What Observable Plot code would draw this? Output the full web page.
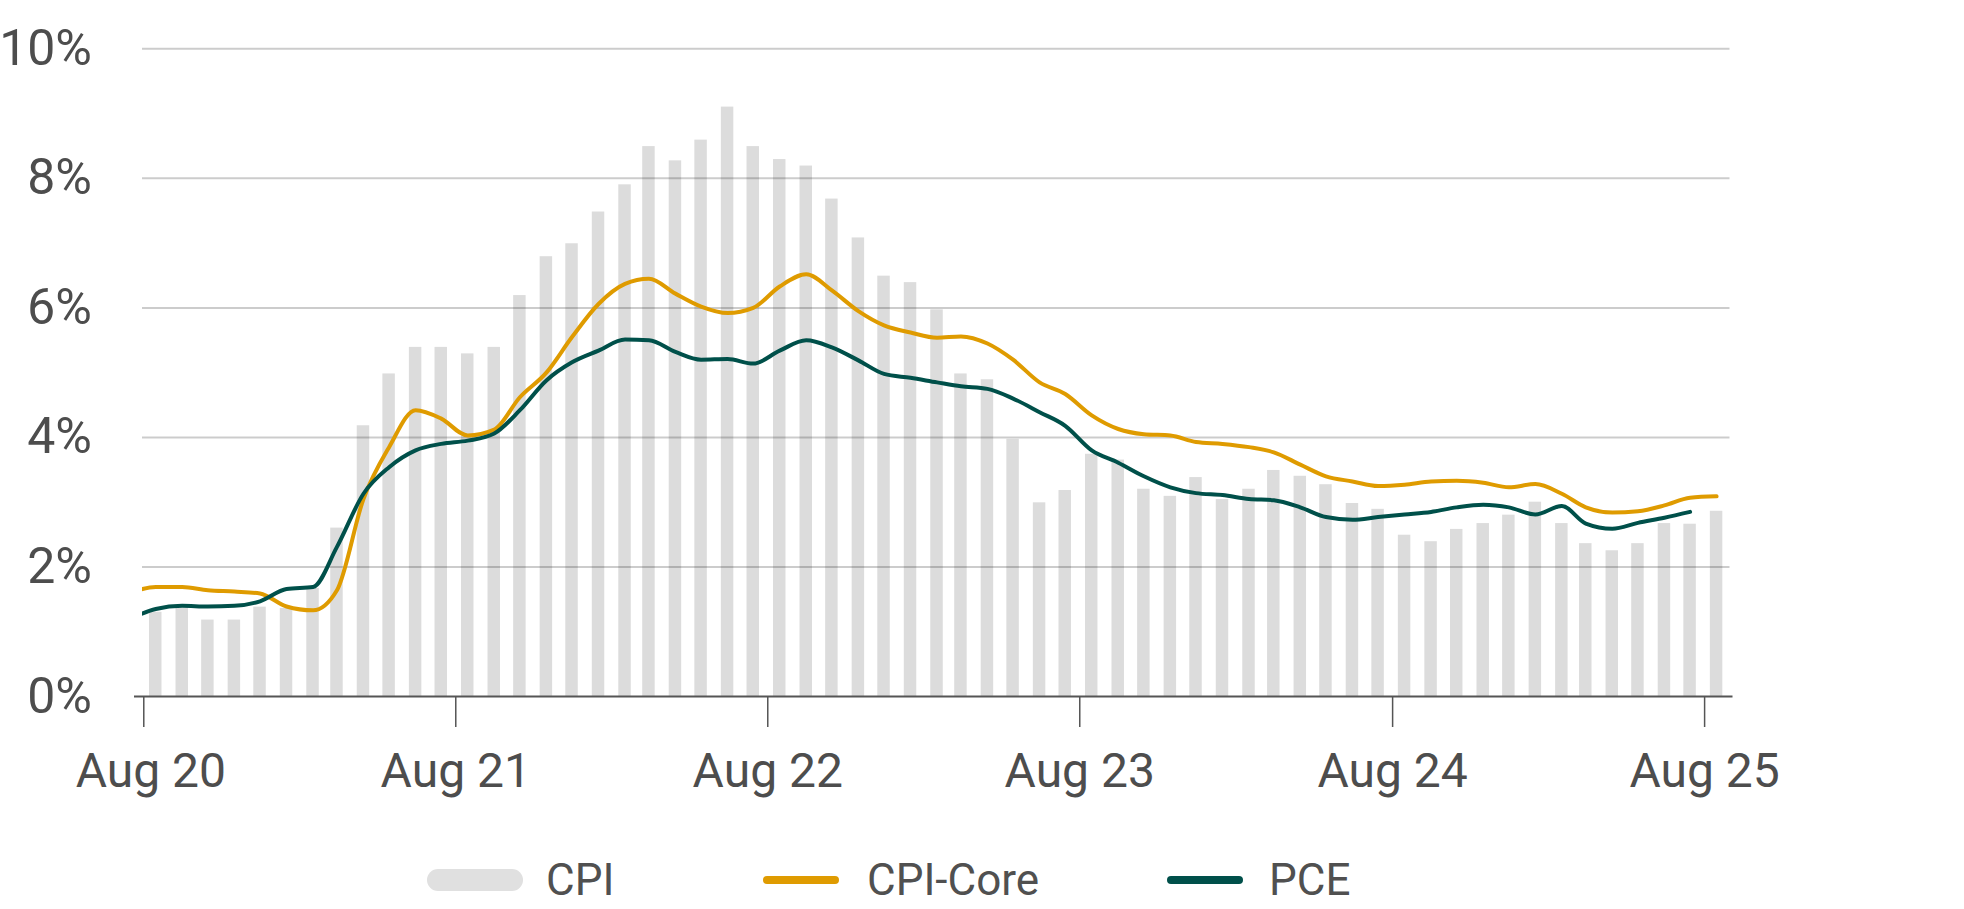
<!DOCTYPE html>
<html>
<head>
<meta charset="utf-8">
<script src="https://cdn.jsdelivr.net/npm/d3@7"></script>
<script src="https://cdn.jsdelivr.net/npm/@observablehq/plot@0.6"></script>
<style>
  html, body { margin: 0; padding: 0; background: #fff; }
  #wrap { position: relative; width: 1964px; height: 909px; font-family: Roboto, "Noto Sans", sans-serif; }
  #legend { position: absolute; left: 0; top: 830px; width: 1964px; height: 100px; }
  .item { position: absolute; top: 0; height: 100px; display: flex; align-items: center; }
  .sw { display: inline-block; }
  .lab { position: absolute; font-size: 44px; color: #505050; white-space: nowrap; line-height: 1; }
</style>
</head>
<body>
<div id="wrap"><div id="chart"></div><div id="legend"></div></div>
<script>
// ---- Data ----
// CPI year-over-year, monthly Aug 2020 .. Aug 2025
const cpiStart = "2020-08";
const cpiValues = [
  1.30, 1.37, 1.18, 1.18, 1.38, 1.36, 1.67, 2.60, 4.18, 4.98,
  5.39, 5.39, 5.29, 5.39, 6.19, 6.79, 6.99, 7.48, 7.90, 8.49,
  8.27, 8.59, 9.10, 8.49, 8.29, 8.19, 7.68, 7.08, 6.49, 6.39,
  5.97, 4.98, 4.89, 3.97, 2.99, 3.18, 3.74, 3.65, 3.20, 3.09,
  3.38, 3.04, 3.20, 3.49, 3.40, 3.27, 2.98, 2.89, 2.49, 2.39,
  2.58, 2.67, 2.80, 3.00, 2.67, 2.36, 2.25, 2.36, 2.67, 2.66,
  2.86
];
// CPI-Core year-over-year, monthly Jul 2020 .. Aug 2025
const coreStart = "2020-07";
const coreValues = [
  1.60,
  1.69, 1.69, 1.64, 1.62, 1.59, 1.39, 1.33, 1.64, 3.05, 3.85,
  4.42, 4.29, 4.03, 4.12, 4.62, 5.00, 5.55, 6.06, 6.37, 6.45,
  6.22, 6.02, 5.92, 6.00, 6.33, 6.52, 6.27, 5.95, 5.73, 5.62,
  5.54, 5.56, 5.45, 5.20, 4.85, 4.67, 4.34, 4.13, 4.05, 4.03,
  3.93, 3.90, 3.85, 3.77, 3.58, 3.40, 3.32, 3.25, 3.27, 3.32,
  3.33, 3.30, 3.23, 3.28, 3.13, 2.92, 2.84, 2.86, 2.95, 3.07,
  3.09
];
// PCE year-over-year, monthly Jul 2020 .. Jul 2025
const pceStart = "2020-07";
const pceValues = [
  1.20,
  1.35, 1.40, 1.39, 1.40, 1.47, 1.66, 1.69, 2.31, 3.13, 3.54,
  3.80, 3.90, 3.95, 4.06, 4.42, 4.88, 5.16, 5.34, 5.51, 5.50,
  5.32, 5.20, 5.21, 5.14, 5.34, 5.50, 5.39, 5.19, 4.98, 4.92,
  4.85, 4.79, 4.75, 4.60, 4.39, 4.18, 3.80, 3.61, 3.40, 3.23,
  3.14, 3.11, 3.05, 3.03, 2.92, 2.77, 2.73, 2.77, 2.81, 2.85,
  2.92, 2.96, 2.92, 2.81, 2.94, 2.67, 2.59, 2.68, 2.76, 2.85
];
const seriesNames = ["CPI", "CPI-Core", "PCE"];
const seriesColors = ["#dcdcdc", "#df9b00", "#00504a"];
const yTicks = [0, 2, 4, 6, 8, 10];
const yTickLabels = ["0%", "2%", "4%", "6%", "8%", "10%"];
const xTickMonths = ["2020-08", "2021-08", "2022-08", "2023-08", "2024-08", "2025-08"];
const xTickLabels = ["Aug 20", "Aug 21", "Aug 22", "Aug 23", "Aug 24", "Aug 25"];

// ---- Build rows (monthly points placed mid-month) ----
const parseMonth = d3.utcParse("%Y-%m");
function rows(start, values) {
  const s = parseMonth(start);
  return values.map((v, i) => ({date: d3.utcDay.offset(d3.utcMonth.offset(s, i), 14), value: v}));
}
const cpiRows = rows(cpiStart, cpiValues);
const coreRows = rows(coreStart, coreValues);
const pceRows = rows(pceStart, pceValues);
const xTickDates = xTickMonths.map(parseMonth);
const xLabelMap = new Map(xTickDates.map((d, i) => [+d, xTickLabels[i]]));
const yLabelMap = new Map(yTicks.map((d, i) => [d, yTickLabels[i]]));

const textColor = "#4d4d4d";
const axisColor = "#555555";
const xLabelStyle = {tickFormat: d => xLabelMap.get(+d), tickSize: 0, tickPadding: 56, fill: textColor, fontSize: 48, label: null};

const chart = Plot.plot({
  width: 1964,
  height: 830,
  marginTop: 48.3,
  marginBottom: 134,
  marginLeft: 142,
  marginRight: 234.5,
  x: {type: "utc", domain: [new Date(Date.UTC(2020, 6, 30, 12)), new Date(Date.UTC(2025, 7, 30, 17))]},
  y: {domain: [0, 10]},
  style: {fontFamily: "Roboto, 'Noto Sans', sans-serif", background: "#fff", overflow: "visible"},
  marks: [
    Plot.rect(cpiRows, {
      x1: d => d3.utcHour.offset(d.date, -175),
      x2: d => d3.utcHour.offset(d.date, 175),
      y1: 0, y2: "value",
      fill: seriesColors[0]
    }),
    Plot.ruleY(yTicks.filter(d => d > 0), {stroke: "#000", strokeOpacity: 0.2, strokeWidth: 2}),
    Plot.ruleY([0], {stroke: axisColor, strokeWidth: 2, insetLeft: -8, insetRight: -3}),
    Plot.line(coreRows, {x: "date", y: "value", stroke: seriesColors[1], strokeWidth: 4, curve: "monotone-x", clip: true}),
    Plot.line(pceRows, {x: "date", y: "value", stroke: seriesColors[2], strokeWidth: 4, curve: "monotone-x", clip: true}),
    Plot.axisX({
      ticks: xTickDates, text: null,
      tickSize: 31,
      stroke: axisColor, strokeWidth: 1.5, label: null
    }),
    Plot.axisX({ticks: xTickDates.slice(0, 1), dx: 7, ...xLabelStyle}),
    Plot.axisX({ticks: xTickDates.slice(1), ...xLabelStyle}),
    Plot.axisY({
      ticks: yTicks,
      tickFormat: d => yLabelMap.get(d),
      tickSize: 0, tickPadding: 50.5,
      fill: textColor, fontSize: 50, label: null
    })
  ]
});
document.getElementById("chart").appendChild(chart);

// ---- Legend (below the chart) ----
const legendLayout = [
  {sw: 427, w: 96, h: 22, text: 546},
  {sw: 763, w: 76, h: 8, text: 867},
  {sw: 1167, w: 76, h: 8, text: 1269}
];
const legend = document.getElementById("legend");
seriesNames.forEach((name, i) => {
  const L = legendLayout[i];
  const item = document.createElement("div");
  item.className = "item";
  item.style.left = L.sw + "px";
  const sw = document.createElement("span");
  sw.className = "sw";
  sw.style.width = L.w + "px";
  sw.style.height = L.h + "px";
  sw.style.borderRadius = (L.h / 2) + "px";
  sw.style.background = i === 0 ? "#e0e0e0" : seriesColors[i];
  item.appendChild(sw);
  legend.appendChild(item);
  const lab = document.createElement("div");
  lab.className = "lab";
  lab.textContent = name;
  lab.style.left = L.text + "px";
  lab.style.top = (50 - 22) + "px";
  lab.style.height = "44px";
  lab.style.display = "flex";
  lab.style.alignItems = "center";
  legend.appendChild(lab);
});
</script>
</body>
</html>
